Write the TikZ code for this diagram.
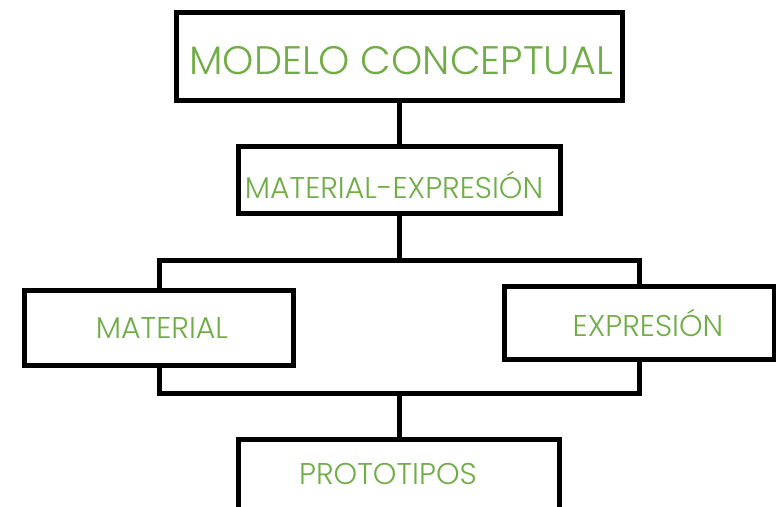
\documentclass[tikz,border=0pt]{standalone}
\usepackage{fontspec}
\setmainfont{Poppins}[UprightFont=* Light]
\usetikzlibrary{positioning}
\definecolor{leafgreen}{RGB}{112,173,71}
% one pixel of the sheet
\newdimen\px \px=0.75pt
\tikzset{
  box/.style={rectangle, draw=black, line width=5\px, fill=white, inner sep=0pt},
  txt/.style={text=leafgreen, inner sep=0pt, font=\fontsize{22.5}{26}\selectfont},
  conn/.style={draw=black, line width=5\px},
}

\begin{document}
\begin{tikzpicture}[x=0.75pt,y=-0.75pt]
\useasboundingbox (0,0) rectangle (776,507);

% ================= levels 1 and 2 =================
\node[box, minimum width=446\px, minimum height=88\px] (model) at (399.5,56.5) {};
\node[txt, font=\fontsize{29.8}{34}\selectfont] (modeltxt) at (401,61) {MODELO CONCEPTUAL};

\node[box, minimum width=322\px, minimum height=67\px] (matexp) at (399.5,180) {};
\node[txt] (matexptxt) at (394,185) {MATERIAL-EXPRESIÓN};

% ================= level 3 =================
\node[box, minimum width=269\px, minimum height=75\px] (mat) at (159,328) {};
\node[txt] (mattxt) at (162,328) {MATERIAL};

\node[box, minimum width=270\px, minimum height=73\px] (exp) at (639,323) {};
\node[txt] (exptxt) at (648,323) {EXPRESIÓN};

% ================= level 4 (cut by the page edge) =================
\node[box, minimum width=321\px, minimum height=90\px] (proto) at (399,484.5) {};
\node[txt] (prototxt) at (388,474) {PROTOTIPOS};

% ================= connectors =================
\coordinate (split) at (399.5,260);
\coordinate (join) at (399,393);
\draw[conn] (model.south) -- (matexp.north);
\draw[conn] (matexp.south) -- (split);
\draw[conn] (mat.north) |- (split) -| (exp.north);
\draw[conn] (mat.south) |- (join) -| (exp.south);
\draw[conn] (join) -- (proto.north);

\end{tikzpicture}
\end{document}
